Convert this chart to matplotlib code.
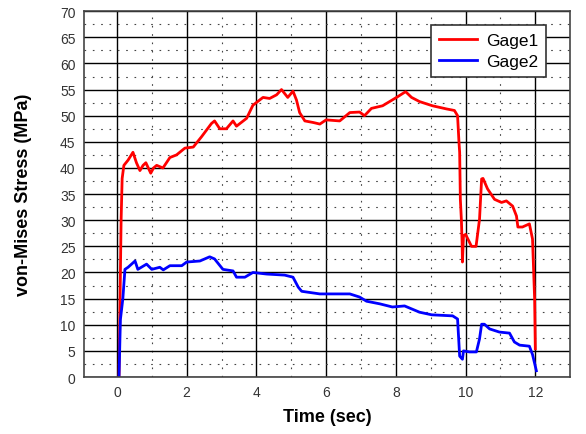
import matplotlib
matplotlib.use("Agg")
import matplotlib.pyplot as plt
from matplotlib.ticker import MultipleLocator

plt.rcParams['font.family'] = ['Liberation Sans', 'DejaVu Sans']

# Gage1 (red) - time in sec, stress in MPa
t1 = [0.06, 0.09, 0.12, 0.15, 0.2, 0.32, 0.46, 0.56, 0.66, 0.75, 0.83, 0.9, 0.97, 1.05, 1.14,
      1.32, 1.52, 1.71, 1.95, 2.19, 2.43, 2.71, 2.8, 2.95, 3.14, 3.33, 3.43, 3.72, 3.9, 4.19,
      4.38, 4.58, 4.72, 4.9, 5.05, 5.15, 5.24, 5.39, 5.63, 5.82, 6.0, 6.39, 6.68, 6.96, 7.1,
      7.3, 7.62, 8.02, 8.28, 8.45, 8.68, 9.05, 9.45, 9.68, 9.77, 9.81, 9.83, 9.85, 9.88, 9.9,
      9.91, 9.94, 10.0, 10.17, 10.3, 10.4, 10.46, 10.5, 10.63, 10.83, 11.03, 11.17, 11.35, 11.46,
      11.5, 11.63, 11.83, 11.92, 11.98, 12.0]
g1 = [0.0, 15.0, 30.0, 38.0, 40.5, 41.5, 43.0, 41.0, 39.5, 40.5, 41.0, 40.0, 39.0, 40.0, 40.5,
      40.0, 42.0, 42.5, 43.8, 44.0, 46.0, 48.5, 49.0, 47.5, 47.5, 49.0, 48.0, 49.5, 52.0, 53.5,
      53.3, 54.0, 55.0, 53.5, 54.7, 53.0, 50.6, 49.0, 48.7, 48.4, 49.2, 49.0, 50.6, 50.7, 50.0,
      51.4, 51.9, 53.5, 54.6, 53.5, 52.7, 51.9, 51.3, 51.0, 50.0, 45.0, 43.0, 34.0, 30.0, 25.8,
      22.0, 27.0, 27.3, 25.0, 25.0, 30.2, 37.9, 38.0, 36.0, 34.0, 33.4, 33.7, 32.7, 30.8,
      28.7, 28.7, 29.3, 26.4, 15.0, 5.4]

# Gage2 (blue)
t2 = [0.06, 0.1, 0.17, 0.23, 0.32, 0.52, 0.6, 0.85, 1.0, 1.23, 1.33, 1.52, 1.86, 2.0, 2.38,
      2.66, 2.8, 3.04, 3.33, 3.43, 3.67, 3.9, 4.3, 4.81, 5.05, 5.2, 5.3, 5.82, 6.68, 6.96,
      7.16, 7.54, 7.9, 8.25, 8.68, 9.03, 9.63, 9.77, 9.83, 9.91, 9.94, 10.11, 10.31, 10.4,
      10.46, 10.54, 10.69, 10.97, 11.26, 11.4, 11.55, 11.83, 11.92, 12.03]
g2 = [0.0, 11.0, 15.0, 20.6, 21.0, 22.2, 20.6, 21.6, 20.6, 21.0, 20.5, 21.3, 21.3, 22.0, 22.2,
      23.0, 22.6, 20.6, 20.3, 19.1, 19.1, 20.0, 19.7, 19.5, 19.1, 17.2, 16.4, 15.9, 15.9, 15.3,
      14.5, 14.0, 13.4, 13.6, 12.4, 11.9, 11.7, 11.1, 4.0, 3.4, 5.0, 4.8, 4.8, 7.3,
      10.1, 10.1, 9.2, 8.6, 8.4, 6.7, 6.1, 5.9, 4.3, 1.2]

fig = plt.figure(figsize=(5.86, 4.35), dpi=100)
ax = fig.add_axes([0.143, 0.131, 0.830, 0.841])

ax.plot(t1, g1, color='#ff0000', linewidth=2, label='Gage1')
ax.plot(t2, g2, color='#0000ff', linewidth=2, label='Gage2')

ax.set_xlim(-0.95, 13)
ax.set_ylim(0, 70)
ax.xaxis.set_major_locator(MultipleLocator(2))
ax.xaxis.set_minor_locator(MultipleLocator(1))
ax.yaxis.set_major_locator(MultipleLocator(5))
ax.yaxis.set_minor_locator(MultipleLocator(2.5))
ax.grid(which='major', color='black', linewidth=1.0)
ax.grid(which='minor', color='#444444', linewidth=0.8, linestyle=(0, (1.5, 6)))
ax.set_axisbelow(True)
ax.tick_params(which='both', length=0, labelsize=10, colors='#333333', pad=6)
for s in ax.spines.values():
    s.set_color('#444444')
    s.set_linewidth(1.2)

ax.set_xlabel('Time (sec)', fontsize=13, fontweight='bold', labelpad=6)
ax.set_ylabel('von-Mises Stress (MPa)', fontsize=13, fontweight='bold', labelpad=20)

leg = ax.legend(loc='upper right', bbox_to_anchor=(0.95, 0.962), borderaxespad=0,
                fontsize=12.5, fancybox=False, framealpha=1, edgecolor='#333333',
                handlelength=2.2, handletextpad=0.5, borderpad=0.45, labelspacing=0.35)
leg.get_frame().set_linewidth(1.2)

fig.savefig('out.png', dpi=100)
